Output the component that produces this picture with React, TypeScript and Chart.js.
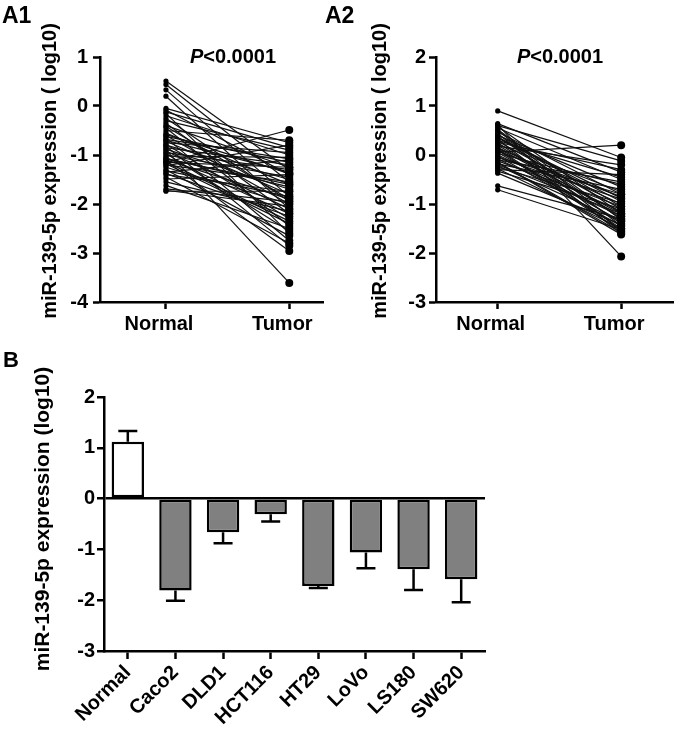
import React, { useEffect, useRef } from 'react';
import { Chart, registerables } from 'chart.js';
Chart.register(...registerables);

const FONT = "'Liberation Sans', Arial, Helvetica, sans-serif";

// ---------- Data ----------
const groupLabels = ['Normal', 'Tumor'];
const pLabel = ['P', '<0.0001'];
const yTitleA = 'miR-139-5p expression ( log10)';
const yTitleB = 'miR-139-5p expression (log10)';

// Panel A1 paired samples (log10)
const a1Normal = [0.51, 0.44, 0.33, 0.20, -0.05, -0.08, -0.12, -0.15, -0.20, -0.25, -0.30, -0.35, -0.40, -0.45, -0.50, -0.55, -0.60, -0.62, -0.65, -0.70, -0.72, -0.75, -0.78, -0.80, -0.82, -0.85, -0.88, -0.90, -0.92, -0.95, -0.97, -1.00, -1.02, -1.05, -1.07, -1.10, -1.12, -1.15, -1.18, -1.20, -1.22, -1.25, -1.15, -1.30, -1.32, -1.35, -1.38, -1.40, -1.45, -1.49, -1.55, -1.62, -1.69, -1.74, -1.72, -0.58, -1.08, -0.42, -0.68, -1.14];
const a1Tumor = [-1.30, -1.55, -1.85, -2.10, -0.75, -1.40, -0.85, -2.60, -1.00, -1.95, -0.90, -2.20, -1.25, -2.45, -0.70, -1.60, -2.00, -1.15, -2.75, -1.35, -1.80, -0.95, -2.30, -1.50, -2.85, -1.20, -1.70, -3.61, -2.10, -1.30, -2.55, -1.45, -1.05, -2.20, -1.65, -1.90, -2.96, -1.25, -2.40, -1.55, -0.80, -2.00, -0.49, -2.65, -1.85, -1.10, -2.25, -1.75, -2.80, -1.40, -2.15, -2.50, -1.95, -1.74, -2.05, -1.38, -1.60, -1.90, -1.08, -2.35];

// Panel A2 paired samples (log10)
const a2Normal = [0.90, 0.62, 0.64, 0.58, 0.55, 0.50, 0.47, 0.44, 0.40, 0.38, 0.35, 0.32, 0.30, 0.28, 0.25, 0.22, 0.20, 0.18, 0.15, 0.12, 0.06, 0.08, 0.05, 0.03, 0.00, -0.02, -0.05, -0.08, -0.10, -0.12, -0.15, -0.18, -0.20, -0.22, -0.25, -0.28, -0.30, -0.33, -0.37, -0.63, -0.71, 0.60, 0.42, 0.26, 0.14, 0.10, -0.04, 0.36, 0.52, -0.16];
const a2Tumor = [-0.05, -2.07, -0.35, -1.20, -0.50, -1.45, -0.80, -1.55, -0.65, -1.30, -0.95, -1.60, -0.45, -1.10, -1.40, -0.75, -1.25, -0.20, -1.00, -1.50, 0.20, -0.85, -1.35, -0.60, -1.15, -1.45, -0.90, -1.25, -0.55, -1.05, -1.58, -0.70, -1.20, -1.35, -0.98, -1.50, -0.40, -1.10, -1.42, -1.30, -1.52, -0.12, -1.05, -0.30, -1.20, -1.55, -0.80, -0.88, -1.32, -1.62];

// Panel B cell lines
const bLabels = ['Normal', 'Caco2', 'DLD1', 'HCT116', 'HT29', 'LoVo', 'LS180', 'SW620'];
const bValues = [1.12, -1.81, -0.66, -0.31, -1.72, -1.06, -1.39, -1.59];
const bErrors = [0.21, 0.20, 0.22, 0.14, 0.04, 0.31, 0.41, 0.45];

// ---------- helpers ----------
type Seg = { text: string; italic?: boolean };
type TextItem = { x: number; y: number; size: number; segs: Seg[]; align?: 'left' | 'center'; rotate?: number };

function textPlugin(items: TextItem[]) {
  return {
    id: 'panelText',
    afterDraw(chart: any) {
      const ctx = chart.ctx as CanvasRenderingContext2D;
      for (const it of items) {
        ctx.save();
        ctx.translate(it.x, it.y);
        if (it.rotate) ctx.rotate(it.rotate);
        ctx.textBaseline = 'middle';
        ctx.textAlign = 'left';
        ctx.fillStyle = '#000';
        let total = 0;
        const widths = it.segs.map((s) => {
          ctx.font = `${s.italic ? 'italic ' : ''}bold ${it.size}px ${FONT}`;
          const w = ctx.measureText(s.text).width;
          total += w;
          return w;
        });
        let x = it.align === 'left' ? 0 : -total / 2;
        it.segs.forEach((s, i) => {
          ctx.font = `${s.italic ? 'italic ' : ''}bold ${it.size}px ${FONT}`;
          ctx.fillText(s.text, x, 0);
          x += widths[i];
        });
        ctx.restore();
      }
    },
  };
}

const tickFont = { family: FONT, size: 20, weight: 'bold' as const };

function pairConfig(opts: {
  normal: number[];
  tumor: number[];
  yMin: number;
  yMax: number;
  xMin: number;
  xMax: number;
  padRight: number;
  yWidth: number;
  yPad: number;
  texts: TextItem[];
}) {
  const datasets = opts.normal.map((n, i) => ({
    data: [
      { x: 0, y: n },
      { x: 1, y: opts.tumor[i] },
    ],
    borderColor: '#111',
    borderWidth: 1.2,
    pointRadius: [2.6, 4],
    pointBackgroundColor: '#000',
    pointBorderColor: '#000',
    pointBorderWidth: 0,
    fill: false,
    tension: 0,
  }));
  return {
    type: 'line' as const,
    data: { datasets },
    options: {
      responsive: false,
      animation: false as const,
      events: [],
      layout: { padding: { left: 0, top: 57, right: opts.padRight, bottom: 0 } },
      plugins: { legend: { display: false }, tooltip: { enabled: false } },
      scales: {
        x: {
          type: 'linear' as const,
          min: opts.xMin,
          max: opts.xMax,
          afterBuildTicks: (s: any) => {
            s.ticks = [{ value: 0 }, { value: 1 }];
          },
          afterFit: (s: any) => {
            s.height = 38;
          },
          grid: { drawOnChartArea: false, tickLength: 7, tickWidth: 2.5, tickColor: '#000' },
          border: { color: '#000', width: 2.5 },
          ticks: {
            callback: (v: any) => (v === 0 ? groupLabels[0] : v === 1 ? groupLabels[1] : ''),
            color: '#000',
            font: tickFont,
            padding: 3,
            labelOffset: -7,
            autoSkip: false,
            maxRotation: 0,
          },
        },
        y: {
          min: opts.yMin,
          max: opts.yMax,
          afterFit: (s: any) => {
            s.width = opts.yWidth;
          },
          grid: { drawOnChartArea: false, tickLength: 7, tickWidth: 2.5, tickColor: '#000' },
          border: { color: '#000', width: 2.5 },
          ticks: { stepSize: 1, color: '#000', font: tickFont, padding: opts.yPad },
        },
      },
    },
    plugins: [textPlugin(opts.texts)],
  };
}

const errorBarPlugin = {
  id: 'errorBars',
  afterDatasetsDraw(chart: any) {
    const meta = chart.getDatasetMeta(0);
    const y = chart.scales.y;
    const ctx = chart.ctx as CanvasRenderingContext2D;
    ctx.save();
    ctx.strokeStyle = '#000';
    ctx.lineWidth = 2.5;
    meta.data.forEach((bar: any, i: number) => {
      const v = bValues[i];
      const e = bErrors[i];
      const end = v >= 0 ? v + e : v - e;
      const y0 = y.getPixelForValue(v);
      const y1 = y.getPixelForValue(end);
      ctx.beginPath();
      ctx.moveTo(bar.x, y0);
      ctx.lineTo(bar.x, y1);
      ctx.moveTo(bar.x - 9.5, y1);
      ctx.lineTo(bar.x + 9.5, y1);
      ctx.stroke();
    });
    ctx.restore();
  },
};

function barConfig() {
  return {
    type: 'bar' as const,
    data: {
      labels: bLabels,
      datasets: [
        {
          data: bValues,
          backgroundColor: bLabels.map((_, i) => (i === 0 ? '#ffffff' : '#808080')),
          borderColor: '#000',
          borderWidth: 2.5,
          borderSkipped: false,
          barPercentage: 0.68,
          categoryPercentage: 1,
        },
      ],
    },
    options: {
      responsive: false,
      animation: false as const,
      events: [],
      layout: { padding: { left: 0, top: 57, right: 200, bottom: 0 } },
      plugins: { legend: { display: false }, tooltip: { enabled: false } },
      scales: {
        x: {
          afterFit: (s: any) => {
            s.height = 83;
          },
          grid: { offset: false, drawOnChartArea: false, tickLength: 8, tickWidth: 2.5, tickColor: '#000' },
          border: { color: '#000', width: 2.5 },
          ticks: { minRotation: 45, maxRotation: 45, autoSkip: false, color: '#000', font: tickFont, padding: 2 },
        },
        y: {
          min: -3,
          max: 2,
          afterFit: (s: any) => {
            s.width = 104;
          },
          grid: {
            color: (c: any) => (c.tick && c.tick.value === 0 ? '#000' : 'rgba(0,0,0,0)'),
            lineWidth: 2.5,
            tickColor: '#000',
            tickLength: 7,
            tickWidth: 2.5,
          },
          border: { color: '#000', width: 2.5 },
          ticks: { stepSize: 1, color: '#000', font: tickFont, padding: 2 },
        },
      },
    },
    plugins: [
      errorBarPlugin,
      textPlugin([
        { x: 3, y: 21, size: 22, segs: [{ text: 'B' }], align: 'left' },
        { x: 43, y: 179, size: 21, segs: [{ text: yTitleB }], rotate: -Math.PI / 2 },
      ]),
    ],
  };
}

function ChartCanvas({ left, top, width, height, make }: { left: number; top: number; width: number; height: number; make: () => any }) {
  const ref = useRef<HTMLCanvasElement | null>(null);
  useEffect(() => {
    if (!ref.current) return;
    const chart = new Chart(ref.current, make());
    return () => chart.destroy();
  }, []);
  return (
    <canvas
      ref={ref}
      width={width}
      height={height}
      style={{ position: 'absolute', left, top, width, height, display: 'block' }}
    />
  );
}

export default function App() {
  return (
    <div style={{ position: 'absolute', left: 0, top: 0, width: 685, height: 734, background: '#fff' }}>
      <ChartCanvas
        left={0}
        top={0}
        width={340}
        height={340}
        make={() =>
          pairConfig({
            normal: a1Normal,
            tumor: a1Tumor,
            yMin: -4,
            yMax: 1,
            xMin: -0.535,
            xMax: 1.276,
            padRight: 16.7,
            yWidth: 100,
            yPad: 5,
            texts: [
              { x: 2, y: 17, size: 23, segs: [{ text: 'A1' }], align: 'left' },
              { x: 233, y: 57, size: 20, segs: [{ text: pLabel[0], italic: true }, { text: pLabel[1] }] },
              { x: 50, y: 171, size: 20, segs: [{ text: yTitleA }], rotate: -Math.PI / 2 },
            ],
          })
        }
      />
      <ChartCanvas
        left={320}
        top={0}
        width={365}
        height={340}
        make={() =>
          pairConfig({
            normal: a2Normal,
            tumor: a2Tumor,
            yMin: -3,
            yMax: 2,
            xMin: -0.5,
            xMax: 1.42,
            padRight: 12,
            yWidth: 116,
            yPad: 3,
            texts: [
              { x: 5, y: 17, size: 23, segs: [{ text: 'A2' }], align: 'left' },
              { x: 240, y: 57, size: 20, segs: [{ text: pLabel[0], italic: true }, { text: pLabel[1] }] },
              { x: 60.5, y: 171, size: 20, segs: [{ text: yTitleA }], rotate: -Math.PI / 2 },
            ],
          })
        }
      />
      <ChartCanvas left={0} top={340} width={685} height={394} make={barConfig} />
    </div>
  );
}
